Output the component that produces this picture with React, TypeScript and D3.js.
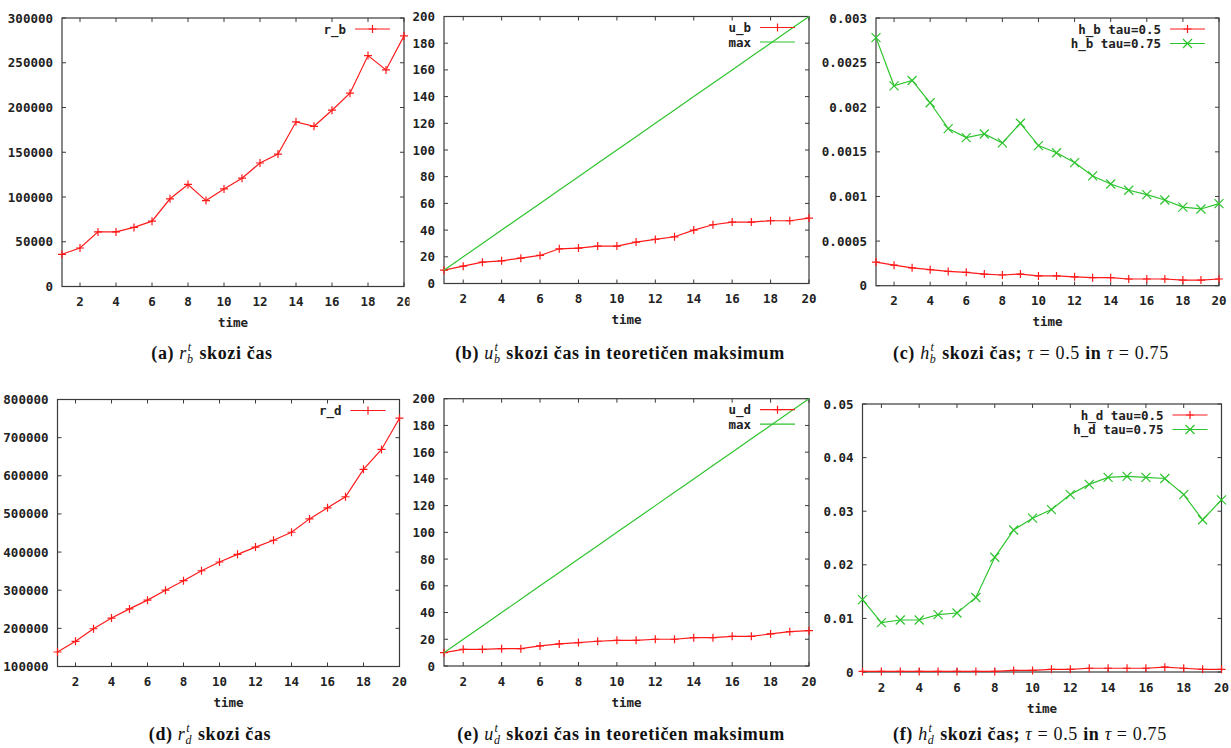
import React from "react";
import * as d3 from "d3";

// ---------- data ----------
const TIME = [1, 2, 3, 4, 5, 6, 7, 8, 9, 10, 11, 12, 13, 14, 15, 16, 17, 18, 19, 20];
const X_TICKS = [2, 4, 6, 8, 10, 12, 14, 16, 18, 20];
const X_TICK_LABELS = ["2", "4", "6", "8", "10", "12", "14", "16", "18", "20"];

const R_B = [36000, 43000, 61000, 61000, 66000, 73000, 98000, 114000, 96000, 109000, 121000, 138000, 148000, 184000, 179000, 197000, 216000, 258000, 242000, 280000];
const U_B = [10, 13, 16, 17, 19, 21, 26, 26.5, 28, 28, 31, 33, 35, 40, 44, 46, 46, 47, 47, 49];
const MAX_U = [10, 20, 30, 40, 50, 60, 70, 80, 90, 100, 110, 120, 130, 140, 150, 160, 170, 180, 190, 200];
const H_B_TAU050 = [0.000265, 0.00023, 0.0002, 0.00018, 0.00016, 0.00015, 0.00013, 0.00012, 0.00013, 0.00011, 0.00011, 0.0001, 0.00009, 0.00009, 0.000075, 0.000075, 0.000075, 0.000063, 0.000063, 0.000075];
const H_B_TAU075 = [0.00278, 0.00224, 0.0023, 0.00205, 0.00176, 0.00166, 0.0017, 0.0016, 0.00182, 0.00157, 0.00149, 0.00138, 0.00123, 0.00114, 0.00107, 0.00102, 0.00096, 0.00088, 0.00086, 0.00092];

const R_D = [138000, 166000, 199000, 227000, 251000, 274000, 300000, 325000, 351000, 374000, 394000, 413000, 431000, 452000, 487000, 516000, 545000, 617000, 669000, 751000];
const U_D = [10, 12.5, 12.5, 13, 13, 15, 16.5, 17.5, 18.5, 19.2, 19.2, 20, 20, 21.2, 21.2, 22.2, 22.2, 24, 25.7, 26.4];
const H_D_TAU050 = [0.0001, 0.0001, 0.0001, 0.0001, 0.0001, 0.0001, 0.0001, 0.0001, 0.0003, 0.0003, 0.0005, 0.0005, 0.0007, 0.0007, 0.0007, 0.0007, 0.0009, 0.0007, 0.0005, 0.0005];
const H_D_TAU075 = [0.0135, 0.0092, 0.0097, 0.0097, 0.0107, 0.011, 0.0139, 0.0214, 0.0265, 0.0287, 0.0303, 0.0331, 0.035, 0.0363, 0.0365, 0.0363, 0.0361, 0.0331, 0.0284, 0.0321];

const Y_TICKS_A = [0, 50000, 100000, 150000, 200000, 250000, 300000];
const Y_LABELS_A = ["0", "50000", "100000", "150000", "200000", "250000", "300000"];
const Y_TICKS_U = [0, 20, 40, 60, 80, 100, 120, 140, 160, 180, 200];
const Y_LABELS_U = ["0", "20", "40", "60", "80", "100", "120", "140", "160", "180", "200"];
const Y_TICKS_C = [0, 0.0005, 0.001, 0.0015, 0.002, 0.0025, 0.003];
const Y_LABELS_C = ["0", "0.0005", "0.001", "0.0015", "0.002", "0.0025", "0.003"];
const Y_TICKS_D = [100000, 200000, 300000, 400000, 500000, 600000, 700000, 800000];
const Y_LABELS_D = ["100000", "200000", "300000", "400000", "500000", "600000", "700000", "800000"];
const Y_TICKS_F = [0, 0.01, 0.02, 0.03, 0.04, 0.05];
const Y_LABELS_F = ["0", "0.01", "0.02", "0.03", "0.04", "0.05"];

// ---------- styles ----------
const RED = "#ff1a1a";
const GREEN = "#2ec42e";
const FRAME = "#3a3a3a";
const MONO = "'DejaVu Sans Mono', 'Liberation Mono', monospace";
const SERIF = "'Liberation Serif', 'DejaVu Serif', serif";

type Series = { name: string; values: number[]; color: string; marker: "plus" | "cross" | "none" };
type Box = { l: number; t: number; r: number; b: number };

function markerPath(kind: string, x: number, y: number, s: number) {
  if (kind === "plus") return `M${x - s},${y}H${x + s}M${x},${y - s}V${y + s}`;
  if (kind === "cross") return `M${x - s},${y - s}L${x + s},${y + s}M${x - s},${y + s}L${x + s},${y - s}`;
  return "";
}

function Panel(props: {
  id: string;
  box: Box;
  yDomain: [number, number];
  yTicks: number[];
  yLabels: string[];
  series: Series[];
  clipRight?: number;
}) {
  const { id, box, yDomain, yTicks, yLabels, series, clipRight } = props;
  const x = d3.scaleLinear().domain([1, 20]).range([box.l, box.r]);
  const y = d3.scaleLinear().domain(yDomain).range([box.b, box.t]);
  const line = d3
    .line<number>()
    .x((_, i) => x(TIME[i]))
    .y((v) => y(v));
  const tl = 4;
  const fs = 12.5;
  return (
    <g clipPath={clipRight ? `url(#clip-${id})` : undefined}>
      {clipRight ? (
        <defs>
          <clipPath id={`clip-${id}`}>
            <rect x={0} y={0} width={clipRight} height={748} />
          </clipPath>
        </defs>
      ) : null}
      {yTicks.map((v, i) => (
        <g key={"yt" + i}>
          <line x1={box.l} x2={box.l + tl} y1={y(v)} y2={y(v)} stroke={FRAME} strokeWidth={1} />
          <line x1={box.r} x2={box.r - tl} y1={y(v)} y2={y(v)} stroke={FRAME} strokeWidth={1} />
          <text x={box.l - 9} y={y(v)} dy="0.36em" textAnchor="end" fontFamily={MONO} fontWeight="bold" fontSize={fs} fill="#222">
            {yLabels[i]}
          </text>
        </g>
      ))}
      {X_TICKS.map((v, i) => (
        <g key={"xt" + i}>
          <line x1={x(v)} x2={x(v)} y1={box.b} y2={box.b - tl} stroke={FRAME} strokeWidth={1} />
          <line x1={x(v)} x2={x(v)} y1={box.t} y2={box.t + tl} stroke={FRAME} strokeWidth={1} />
          <text x={x(v)} y={box.b + 15} dy="0.36em" textAnchor="middle" fontFamily={MONO} fontWeight="bold" fontSize={fs} fill="#222">
            {X_TICK_LABELS[i]}
          </text>
        </g>
      ))}
      <text x={(box.l + box.r) / 2} y={box.b + 36} dy="0.36em" textAnchor="middle" fontFamily={MONO} fontWeight="bold" fontSize={fs} fill="#222">
        time
      </text>
      <rect x={box.l} y={box.t} width={box.r - box.l} height={box.b - box.t} fill="none" stroke={FRAME} strokeWidth={1.2} />
      {series.map((s, si) => (
        <g key={"s" + si}>
          <path d={line(s.values) || ""} fill="none" stroke={s.color} strokeWidth={1.2} />
          {s.marker !== "none"
            ? s.values.map((v, i) => (
                <path key={i} d={markerPath(s.marker, x(TIME[i]), y(v), s.marker === "cross" ? 4.5 : 4)} stroke={s.color} strokeWidth={1.2} fill="none" />
              ))
            : null}
        </g>
      ))}
      {series.map((s, si) => {
        const ly = box.t + 11 + si * 14.5;
        return (
          <g key={"lg" + si}>
            <text x={box.r - 58} y={ly} dy="0.36em" textAnchor="end" fontFamily={MONO} fontWeight="bold" fontSize={fs} fill="#222">
              {s.name}
            </text>
            <line x1={box.r - 49} x2={box.r - 14} y1={ly} y2={ly} stroke={s.color} strokeWidth={1.2} />
            {s.marker !== "none" ? (
              <path d={markerPath(s.marker, box.r - 31.5, ly, s.marker === "cross" ? 4.5 : 4)} stroke={s.color} strokeWidth={1.2} fill="none" />
            ) : null}
          </g>
        );
      })}
    </g>
  );
}

const CAP_FS = 18;
const SUB_FS = 12;

function SubSup(props: { base: string; sub: string; sup: string }) {
  return (
    <>
      <tspan fontStyle="italic" fontWeight="normal">{props.base}</tspan>
      <tspan fontStyle="italic" fontWeight="normal" fontSize={SUB_FS} dy={4}>{props.sub}</tspan>
      <tspan fontStyle="italic" fontWeight="normal" fontSize={SUB_FS} dx={-6} dy={-12}>{props.sup}</tspan>
      <tspan dy={8} dx={2.6}>{" "}</tspan>
    </>
  );
}

function Caption(props: { cx: number; y: number; letter: string; base: string; sub: string; tail: "cas" | "max" | "tau" }) {
  const { cx, y, letter, base, sub, tail } = props;
  return (
    <text x={cx} y={y} textAnchor="middle" fontFamily={SERIF} fontSize={CAP_FS} fontWeight="bold" fill="#111" letterSpacing={0.65}>
      <tspan>{`(${letter}) `}</tspan>
      <SubSup base={base} sub={sub} sup="t" />
      <tspan>{tail === "tau" ? "skozi čas; " : tail === "max" ? "skozi čas in teoretičen maksimum" : "skozi čas"}</tspan>
      {tail === "tau" ? (
        <>
          <tspan fontStyle="italic" fontWeight="normal">τ</tspan>
          <tspan fontWeight="normal">{" = 0.5 "}</tspan>
          <tspan>in</tspan>
          <tspan fontWeight="normal">{" "}</tspan>
          <tspan fontStyle="italic" fontWeight="normal">τ</tspan>
          <tspan fontWeight="normal">{" = 0.75"}</tspan>
        </>
      ) : null}
    </text>
  );
}

export default function App() {
  const W = 1231;
  const H = 748;
  return (
    <svg width={W} height={H} style={{ position: "absolute", left: 0, top: 0, background: "#fff" }}>
      <rect x={0} y={0} width={W} height={H} fill="#fff" />
      <Panel
        id="a"
        box={{ l: 62, t: 18, r: 404, b: 286.5 }}
        yDomain={[0, 300000]}
        yTicks={Y_TICKS_A}
        yLabels={Y_LABELS_A}
        series={[{ name: "r_b", values: R_B, color: RED, marker: "plus" }]}
        clipRight={409.5}
      />
      <Panel
        id="b"
        box={{ l: 444, t: 16.5, r: 809, b: 283.5 }}
        yDomain={[0, 200]}
        yTicks={Y_TICKS_U}
        yLabels={Y_LABELS_U}
        series={[
          { name: "u_b", values: U_B, color: RED, marker: "plus" },
          { name: "max", values: MAX_U, color: GREEN, marker: "none" },
        ]}
      />
      <Panel
        id="c"
        box={{ l: 876, t: 18, r: 1219, b: 285.7 }}
        yDomain={[0, 0.003]}
        yTicks={Y_TICKS_C}
        yLabels={Y_LABELS_C}
        series={[
          { name: "h_b tau=0.5", values: H_B_TAU050, color: RED, marker: "plus" },
          { name: "h_b tau=0.75", values: H_B_TAU075, color: GREEN, marker: "cross" },
        ]}
      />
      <Panel
        id="d"
        box={{ l: 57.5, t: 399.5, r: 399.5, b: 666.5 }}
        yDomain={[100000, 800000]}
        yTicks={Y_TICKS_D}
        yLabels={Y_LABELS_D}
        series={[{ name: "r_d", values: R_D, color: RED, marker: "plus" }]}
      />
      <Panel
        id="e"
        box={{ l: 444, t: 398.7, r: 809, b: 666 }}
        yDomain={[0, 200]}
        yTicks={Y_TICKS_U}
        yLabels={Y_LABELS_U}
        series={[
          { name: "u_d", values: U_D, color: RED, marker: "plus" },
          { name: "max", values: MAX_U, color: GREEN, marker: "none" },
        ]}
      />
      <Panel
        id="f"
        box={{ l: 862.5, t: 404, r: 1221.5, b: 672 }}
        yDomain={[0, 0.05]}
        yTicks={Y_TICKS_F}
        yLabels={Y_LABELS_F}
        series={[
          { name: "h_d tau=0.5", values: H_D_TAU050, color: RED, marker: "plus" },
          { name: "h_d tau=0.75", values: H_D_TAU075, color: GREEN, marker: "cross" },
        ]}
      />
      <Caption cx={212} y={359} letter="a" base="r" sub="b" tail="cas" />
      <Caption cx={620} y={359} letter="b" base="u" sub="b" tail="max" />
      <Caption cx={1031} y={359} letter="c" base="h" sub="b" tail="tau" />
      <Caption cx={210} y={740} letter="d" base="r" sub="d" tail="cas" />
      <Caption cx={621} y={740} letter="e" base="u" sub="d" tail="max" />
      <Caption cx={1030} y={740} letter="f" base="h" sub="d" tail="tau" />
    </svg>
  );
}
